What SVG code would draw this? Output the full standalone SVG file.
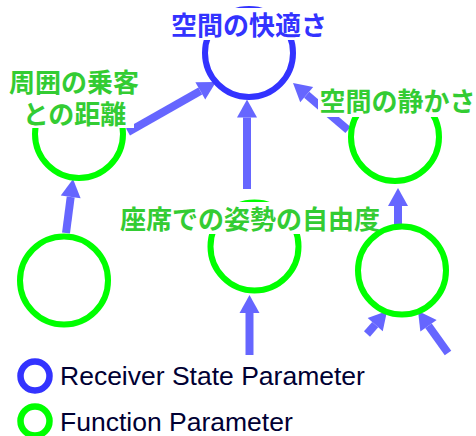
<svg xmlns="http://www.w3.org/2000/svg" width="476" height="436" viewBox="0 0 476 436">
<defs>
<style>
.fn{fill:none;stroke:#00ff00;stroke-width:6}
.rs{fill:none;stroke:#3333ff;stroke-width:6}
.bg{fill:#ffffff}
.jg{font-family:"Noto Sans CJK JP",sans-serif;font-weight:bold;font-size:26px;fill:#33cc33;text-anchor:middle}
.jb{font-family:"Noto Sans CJK JP",sans-serif;font-weight:bold;font-size:26px;fill:#3333ff;text-anchor:middle}
.lg{font-family:"Liberation Sans",Arial,sans-serif;font-size:26.5px;fill:#000033}
.ar{stroke:#6666ff;stroke-width:8;fill:none;marker-end:url(#ah)}
</style>
<marker id="ah" markerUnits="userSpaceOnUse" markerWidth="18" markerHeight="20" refX="0" refY="10" orient="auto" overflow="visible">
<path d="M0,0 L18,10 L0,20 z" fill="#6666ff"/>
</marker>
</defs>
<rect width="476" height="436" fill="#ffffff"/>
<g id="connectors">
<line class="ar" x1="128" y1="132" x2="200.3" y2="90.9"/>
<line class="ar" x1="348" y1="130" x2="306.7" y2="94.7"/>
<line class="ar" x1="247" y1="189" x2="247" y2="117.5"/>
<line class="ar" x1="66" y1="233" x2="70.7" y2="196.9"/>
<line class="ar" x1="398" y1="227" x2="398" y2="206"/>
<line class="ar" x1="249.5" y1="355" x2="249.5" y2="313"/>
<line class="ar" x1="367" y1="334" x2="375.2" y2="324.6"/>
<line class="ar" x1="448" y1="353" x2="428.5" y2="325.7"/>
</g>
<g id="comfort">
<circle class="rs" cx="249" cy="53" r="44"/>
<rect class="bg" x="168" y="8" width="162" height="32"/>
<text class="jb" x="249" y="35">空間の快適さ</text>
</g>
<g id="distance">
<circle class="fn" cx="79" cy="134" r="44"/>
<rect class="bg" x="5" y="64" width="129" height="64"/>
<text class="jg"><tspan x="74" y="92">周囲の乗客</tspan><tspan x="74.5" y="124">との距離</tspan></text>
</g>
<g id="quietness">
<circle class="fn" cx="395" cy="137" r="44"/>
<rect class="bg" x="318" y="86" width="158" height="31"/>
<text class="jg" x="397.5" y="111">空間の静かさ</text>
</g>
<g id="posture">
<circle class="fn" cx="254.5" cy="246.5" r="44"/>
<rect class="bg" x="116" y="202" width="268" height="32"/>
<text class="jg" x="250" y="229">座席での姿勢の自由度</text>
</g>
<g id="bottom-left">
<circle class="fn" cx="64" cy="280.5" r="44"/>
</g>
<g id="bottom-right">
<circle class="fn" cx="402" cy="270.5" r="44"/>
</g>
<g id="legend">
<circle cx="35" cy="376" r="14.5" fill="none" stroke="#3333ff" stroke-width="6.5"/>
<text class="lg" x="60" y="385">Receiver State Parameter</text>
<circle cx="35" cy="421" r="14.5" fill="none" stroke="#00ff00" stroke-width="6.5"/>
<text class="lg" x="60" y="431">Function Parameter</text>
</g>
</svg>
